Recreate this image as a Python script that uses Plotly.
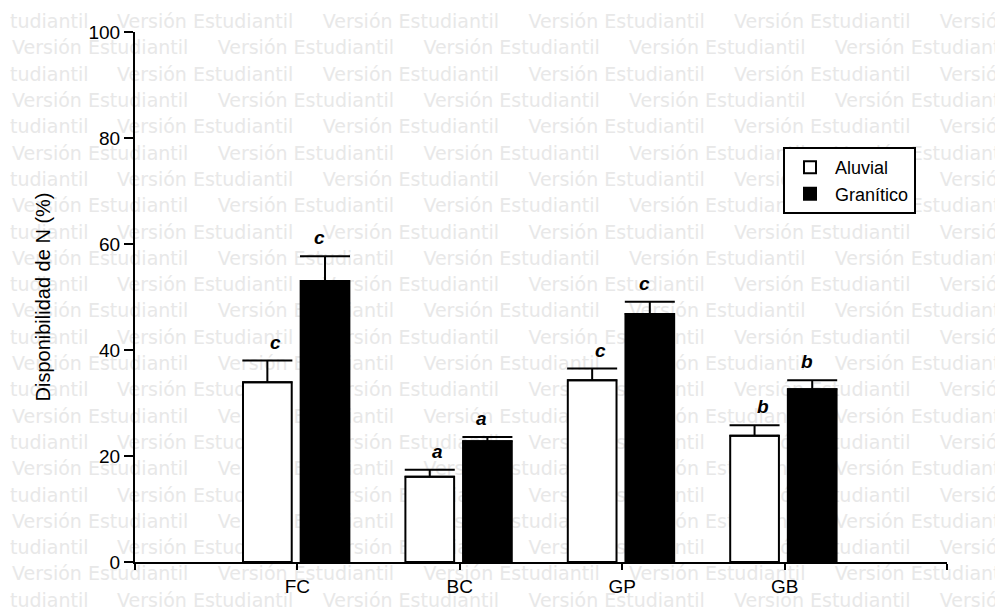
import plotly.graph_objects as go

# ---------------- data ----------------
categories = ["FC", "BC", "GP", "GB"]
series_names = ["Aluvial", "Granítico"]
aluvial = [33.9, 16.1, 34.3, 23.8]
aluvial_err = [4.1, 1.3, 2.2, 2.0]
granitico = [53.0, 22.8, 46.8, 32.6]
granitico_err = [4.7, 0.8, 2.3, 1.7]
aluvial_letters = ["c", "a", "c", "b"]
granitico_letters = ["c", "a", "c", "b"]
y_ticks = [0, 20, 40, 60, 80, 100]
y_title = "Disponibilidad de N (%)"
watermark_text = "Versión Estudiantil"
watermark_tail = "tudiantil"

# ---------------- layout constants ----------------
OFF = 8  # default body margin of the html page
W, H = 1003 - OFF, 609 - OFF
ML, MT = 135 - OFF, 32 - OFF
MR = W - (947 - OFF)
MB = H - (566 - OFF)
PW = W - ML - MR
PH = H - MT - MB
FONT = "Liberation Sans, Arial, Helvetica, sans-serif"

xpos = list(range(len(categories)))

fig = go.Figure()
fig.add_trace(go.Bar(
    x=xpos, y=aluvial, name=series_names[0], width=0.30, offset=-0.335,
    marker=dict(color="white", line=dict(color="black", width=2)),
    error_y=dict(type="data", array=aluvial_err, arrayminus=[0] * len(aluvial),
                 symmetric=False, color="black", thickness=2, width=25),
))
fig.add_trace(go.Bar(
    x=xpos, y=granitico, name=series_names[1], width=0.30, offset=0.02,
    marker=dict(color="black", line=dict(color="black", width=2)),
    error_y=dict(type="data", array=granitico_err, arrayminus=[0] * len(granitico),
                 symmetric=False, color="black", thickness=2, width=25),
))

# significance letters
letter_font = dict(family=FONT, size=19, color="black", weight="bold", style="italic")
annotations = []
for i in xpos:
    annotations.append(dict(
        x=i, y=aluvial[i] + aluvial_err[i], xref="x", yref="y", text=aluvial_letters[i],
        showarrow=False, xshift=-22, yshift=6, yanchor="bottom", font=letter_font))
    annotations.append(dict(
        x=i, y=granitico[i] + granitico_err[i], xref="x", yref="y", text=granitico_letters[i],
        showarrow=False, xshift=22, yshift=6, yanchor="bottom", font=letter_font))


# page pixel -> paper coordinate helpers
def px_x(px):
    return (px - OFF - ML) / PW


def px_y(py):
    return (H - MB - (py - OFF)) / PH


# watermark (drawn below the bars)
shapes = []
for k in range(23):
    yc = 20 + 26.5 * k
    if k % 2 == 0:
        items = [(watermark_tail, 10)] + [(watermark_text, 117 + 205.7 * j) for j in range(5)]
    else:
        items = [(watermark_text, 12 + 205.7 * j) for j in range(5)]
    for text, xp in items:
        shapes.append(dict(
            type="line", xref="paper", yref="paper",
            x0=px_x(xp), x1=px_x(xp + 1), y0=px_y(yc), y1=px_y(yc),
            layer="below", line=dict(color="rgba(0,0,0,0)", width=1),
            label=dict(text=text, textposition="start", xanchor="left", yanchor="middle",
                       padding=0, font=dict(family="DejaVu Sans", size=19, color="#e8e8e8")),
        ))

fig.update_layout(
    width=W, height=H,
    margin=dict(l=ML, r=MR, t=MT, b=MB, pad=0),
    paper_bgcolor="white", plot_bgcolor="white",
    barmode="overlay",
    font=dict(family=FONT, size=18, color="black"),
    showlegend=True,
    legend=dict(
        x=px_x(783), y=px_y(148), xanchor="left", yanchor="top",
        bgcolor="white", bordercolor="black", borderwidth=2,
        font=dict(family=FONT, size=18, color="black"),
        itemwidth=40, tracegroupgap=0,
    ),
    annotations=annotations,
    shapes=shapes,
)

fig.update_xaxes(
    range=[-1, len(categories)],
    tickmode="array",
    tickvals=[-1] + xpos + [len(categories)],
    ticktext=[""] + categories + [""],
    showline=True, linecolor="black", linewidth=2,
    ticks="outside", ticklen=6, tickwidth=2, tickcolor="black",
    showgrid=False, zeroline=False,
    tickfont=dict(family=FONT, size=19, color="black"),
)
fig.update_yaxes(
    range=[0, 100],
    tickmode="array", tickvals=y_ticks,
    showline=True, linecolor="black", linewidth=2,
    ticks="outside", ticklen=9, tickwidth=2, tickcolor="black",
    showgrid=False, zeroline=False,
    tickfont=dict(family=FONT, size=19, color="black"),
    title=dict(text=y_title, font=dict(family=FONT, size=20, color="black"), standoff=32),
)

fig.write_html("out.html")
